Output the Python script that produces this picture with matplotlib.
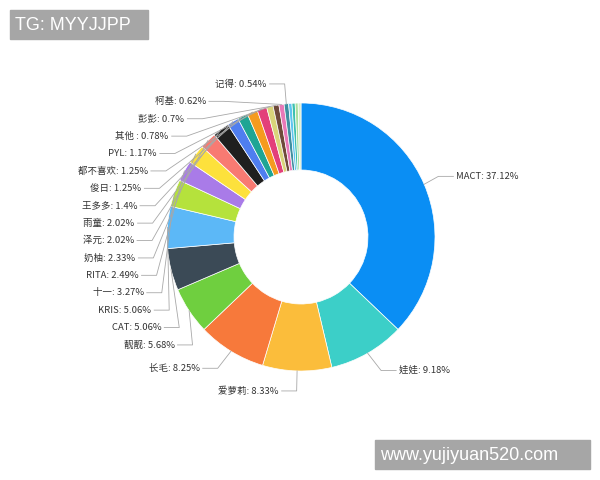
import numpy as np
import matplotlib
matplotlib.use('Agg')
import matplotlib.pyplot as plt
from matplotlib.patches import Rectangle

plt.rcParams['font.family'] = ['Noto Sans CJK SC', 'DejaVu Sans']

# 数据
names = ['MACT', '娃娃', '爱萝莉', '长毛', '靓靓', 'CAT', 'KRIS', '十一', 'RITA', '奶柚',
         '泽元', '雨童', '王多多', '俊日', '都不喜欢', 'PYL', '其他 ', '彭彭', '柯基', '记得',
         '', '', '', '']
values = [37.12, 9.18, 8.33, 8.25, 5.68, 5.06, 5.06, 3.27, 2.49, 2.33,
          2.02, 2.02, 1.4, 1.25, 1.25, 1.17, 0.78, 0.7, 0.62, 0.54,
          0.4, 0.38, 0.36, 0.34]
colors = ['#0a8ef4', '#3ccfc8', '#fbbd3b', '#f7793b', '#6fcf3f', '#3b4a56', '#5cb8f7',
          '#b5e23c', '#a97be8', '#fde13c', '#f87a72', '#1f1f1f', '#4f7ef0', '#1fa594',
          '#f59b1f', '#e3407a', '#d9d57a', '#6e4a3a', '#e879b8', '#3f8fa0',
          '#5ec4f0', '#3cc0b0', '#a8e0a0', '#d6ecc8']

cx, cy = 301, 237
r_out, r_in = 134, 67
len1, len2 = 15, 15
gap = 17.4

fig = plt.figure(figsize=(6, 4.8), dpi=100)
ax = fig.add_axes([0, 0, 1, 1])

# y轴反向，按屏幕坐标布局
ax.pie(values, colors=colors, startangle=-90, counterclock=True,
       radius=r_out, center=(cx, cy),
       wedgeprops=dict(width=r_out - r_in, edgecolor='white', linewidth=0.5))
ax.set_xlim(0, 600)
ax.set_ylim(480, 0)
ax.set_aspect('equal')
ax.axis('off')

# 标签布局（类似 echarts 的避让）
total = sum(values)
cum = np.cumsum([0] + values[:-1])
labels = []
for i, (n, v) in enumerate(zip(names, values)):
    if not n:
        continue
    a = np.radians((cum[i] + v / 2) / total * 360)
    dx, dy = np.sin(a), -np.cos(a)
    side = 1 if dx >= 0 else -1
    labels.append(dict(text=f'{n}: {v:g}%',
                       ex=cx + r_out * dx, ey=cy + r_out * dy,
                       x=cx + (r_out + len1) * dx + side * len2,
                       y=cy + (r_out + len1 + 5) * dy, side=side))

for side in (-1, 1):
    group = sorted([l for l in labels if l['side'] == side], key=lambda l: l['y'])
    last = -1e9
    for l in group:
        l['y'] = max(l['y'], last + gap)
        last = l['y']
    for isdown in (False, True):
        part = [l for l in group if (l['y'] >= cy) == isdown]
        last_dx = 1e9 if isdown else 0
        for l in part:
            ddy = abs(l['y'] - cy)
            if ddy < (r_out + len1) * 0.97:
                ddx = np.sqrt((r_out + len1 + len2) ** 2 - ddy ** 2)
            else:
                ddx = abs(l['x'] - cx)
            if isdown and ddx >= last_dx:
                ddx = last_dx - 10
            if not isdown and ddx <= last_dx:
                ddx = last_dx + 10
            l['x'] = cx + side * ddx
            last_dx = ddx

for l in labels:
    s = l['side']
    ax.plot([l['ex'], l['x'] - s * len2, l['x']], [l['ey'], l['y'], l['y']],
            color='#a8a8a8', lw=0.6, zorder=1)
    ax.text(l['x'] + s * 3, l['y'], l['text'], fontsize=6.8, color='#333333',
            ha='left' if s > 0 else 'right', va='center')

# 水印
ax.add_patch(Rectangle((10, 10), 138, 29, color='#a6a6a6', zorder=5))
ax.text(15, 25, 'TG: MYYJJPP', fontsize=13, color='white', family='Liberation Sans',
        va='center', ha='left', zorder=6)
ax.add_patch(Rectangle((375, 440), 215, 29, color='#a6a6a6', zorder=5))
ax.text(380, 455, 'www.yujiyuan520.com', fontsize=13, color='white',
        family='Liberation Sans', va='center', ha='left', zorder=6)

fig.savefig('out.png', dpi=100)
